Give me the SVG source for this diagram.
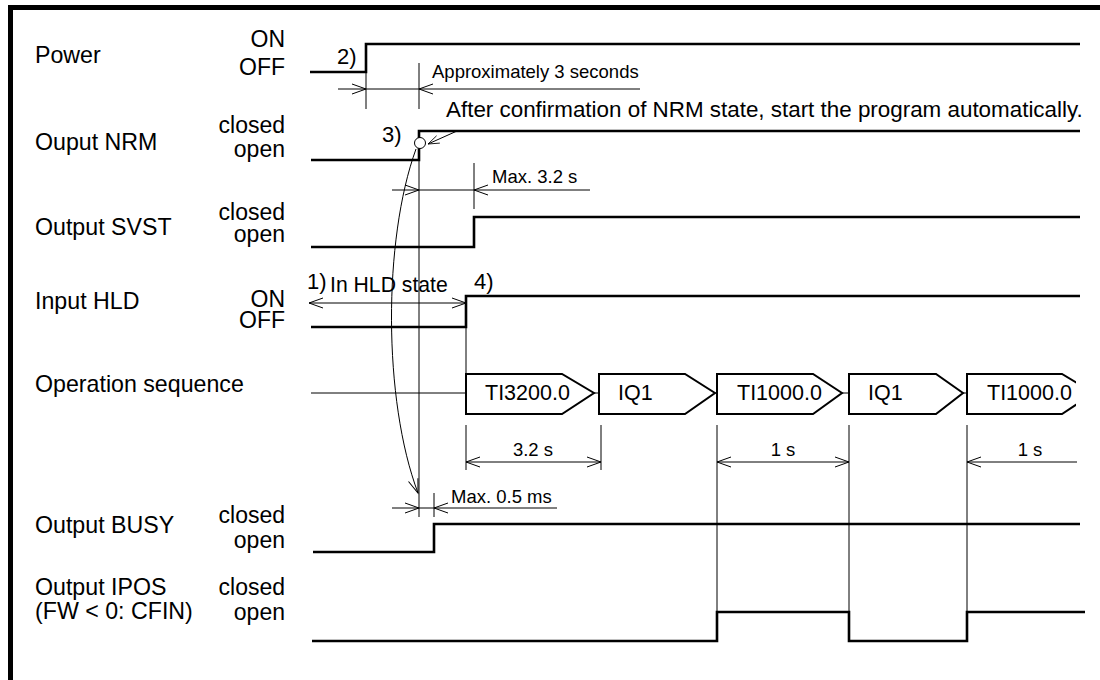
<svg xmlns="http://www.w3.org/2000/svg" width="1100" height="680" viewBox="0 0 1100 680">
<style>
text{font-family:"Liberation Sans",Arial,sans-serif;fill:#000}
.lbl{font-size:23.2px}
.st{font-size:23px;text-anchor:end}
.dim{font-size:18.5px}
.box{font-size:21.5px}
.note{font-size:22.4px}
.num{font-size:22px}
.wave{fill:none;stroke:#000;stroke-width:2.6}
.thin{fill:none;stroke:#000;stroke-width:1}
.blk{fill:none;stroke:#000;stroke-width:2}
</style>
<defs>
<path id="ah" d="M-14,-5 L0,0 L-14,5" fill="none" stroke="#000" stroke-width="1"/>
<clipPath id="clipR"><rect x="0" y="0" width="1076" height="680"/></clipPath>
</defs>
<rect x="8" y="5" width="1092" height="5" fill="#000"/>
<rect x="8" y="5" width="5" height="675" fill="#000"/>

<g id="power">
<text class="lbl" x="35" y="63">Power</text>
<text class="st" x="285" y="47">ON</text>
<text class="st" x="285" y="75">OFF</text>
<polyline class="wave" points="310,72 366,72 366,44 1080,44"/>
<text class="num" x="337" y="64">2)</text>
</g>

<g id="nrm">
<text class="lbl" x="35" y="150">Ouput NRM</text>
<text class="st" x="285" y="133">closed</text>
<text class="st" x="285" y="157">open</text>
<polyline class="wave" points="311,160 419,160 419,131 1080,131"/>
<text class="num" x="382" y="142">3)</text>
<text class="note" x="446" y="117">After confirmation of NRM state, start the program automatically.</text>
</g>

<g id="svst">
<text class="lbl" x="35" y="235">Output SVST</text>
<text class="st" x="285" y="220">closed</text>
<text class="st" x="285" y="242">open</text>
<polyline class="wave" points="311,247 474,247 474,217 1080,217"/>
</g>

<g id="hld">
<text class="lbl" x="35" y="309">Input HLD</text>
<text class="st" x="285" y="307">ON</text>
<text class="st" x="285" y="328">OFF</text>
<polyline class="wave" points="311,327 466,327 466,296 1080,296"/>
<text class="num" x="307" y="289">1)</text>
<text class="note" x="330" y="292" style="font-size:21.2px">In HLD state</text>
<text class="num" x="474" y="289">4)</text>
</g>

<g id="sequence">
<text class="lbl" x="35" y="392">Operation sequence</text>
<line class="thin" x1="311" y1="393" x2="466" y2="393"/>
<path class="blk" d="M466,374 H562 L594,393 L562,414 H466 Z"/>
<text class="box" x="485" y="400">TI3200.0</text>
<line class="thin" x1="594" y1="393" x2="599" y2="393"/>
<path class="blk" d="M599,374 H685 L715,393 L685,414 H599 Z"/>
<text class="box" x="618" y="400">IQ1</text>
<line class="thin" x1="715" y1="393" x2="717" y2="393"/>
<path class="blk" d="M717,374 H813 L842,393 L813,414 H717 Z"/>
<text class="box" x="737" y="400">TI1000.0</text>
<line class="thin" x1="842" y1="393" x2="849" y2="393"/>
<path class="blk" d="M849,374 H936 L963,393 L936,414 H849 Z"/>
<text class="box" x="868" y="400">IQ1</text>
<line class="thin" x1="963" y1="393" x2="967" y2="393"/>
<g clip-path="url(#clipR)">
<path class="blk" d="M967,374 H1062 L1094,393 L1062,414 H967 Z"/>
</g>
<text class="box" x="987" y="400">TI1000.0</text>
</g>

<g id="busy">
<text class="lbl" x="35" y="533">Output BUSY</text>
<text class="st" x="285" y="523">closed</text>
<text class="st" x="285" y="548">open</text>
<polyline class="wave" points="313,552 434,552 434,524 1080,524"/>
</g>

<g id="ipos">
<text class="lbl" x="35" y="595">Output IPOS</text>
<text class="lbl" x="35" y="619">(FW &lt; 0: CFIN)</text>
<text class="st" x="285" y="595">closed</text>
<text class="st" x="285" y="620">open</text>
<polyline class="wave" points="312,641 717,641 717,612 849,612 849,641 967,641 967,612 1085,612"/>
</g>

<g id="connectors">
<line class="thin" x1="366" y1="72" x2="366" y2="109"/>
<line class="thin" x1="419" y1="63" x2="419" y2="109"/>
<line class="thin" x1="338" y1="89" x2="640" y2="89"/>
<use href="#ah" transform="translate(366,89)"/>
<use href="#ah" transform="translate(419,89) rotate(180)"/>
<text class="dim" x="432" y="78">Approximately 3 seconds</text>
<line class="thin" x1="457" y1="131" x2="428" y2="144"/>
<use href="#ah" transform="translate(428,144) rotate(156) scale(0.8)"/>
<path class="thin" d="M416,149 C383,240 383,400 418,493"/>
<use href="#ah" transform="translate(418,493) rotate(70)"/>
<circle cx="420" cy="143" r="5.5" fill="#fff" stroke="#000" stroke-width="1"/>
<line class="thin" x1="419" y1="160" x2="419" y2="517"/>
<line class="thin" x1="474" y1="163" x2="474" y2="209"/>
<line class="thin" x1="392" y1="190" x2="590" y2="190"/>
<use href="#ah" transform="translate(419,190)"/>
<use href="#ah" transform="translate(474,190) rotate(180)"/>
<text class="dim" x="492" y="183">Max. 3.2 s</text>
<line class="thin" x1="309" y1="303" x2="466" y2="303"/>
<use href="#ah" transform="translate(309,303) rotate(180)"/>
<use href="#ah" transform="translate(466,303)"/>
<line class="thin" x1="466" y1="327" x2="466" y2="374"/>
<line class="thin" x1="466" y1="425" x2="466" y2="470"/>
<line class="thin" x1="601" y1="425" x2="601" y2="470"/>
<line class="thin" x1="466" y1="462" x2="601" y2="462"/>
<use href="#ah" transform="translate(466,462) rotate(180)"/>
<use href="#ah" transform="translate(601,462)"/>
<text class="dim" x="533" y="456" text-anchor="middle">3.2 s</text>
<line class="thin" x1="717" y1="425" x2="717" y2="641"/>
<line class="thin" x1="849" y1="425" x2="849" y2="641"/>
<line class="thin" x1="967" y1="425" x2="967" y2="641"/>
<line class="thin" x1="717" y1="462" x2="849" y2="462"/>
<use href="#ah" transform="translate(717,462) rotate(180)"/>
<use href="#ah" transform="translate(849,462)"/>
<text class="dim" x="783" y="456" text-anchor="middle">1 s</text>
<line class="thin" x1="967" y1="462" x2="1077" y2="462"/>
<use href="#ah" transform="translate(967,462) rotate(180)"/>
<text class="dim" x="1030" y="456" text-anchor="middle">1 s</text>
<line class="thin" x1="434" y1="493" x2="434" y2="517"/>
<line class="thin" x1="392" y1="508" x2="557" y2="508"/>
<use href="#ah" transform="translate(419,508)"/>
<use href="#ah" transform="translate(434,508) rotate(180)"/>
<text class="dim" x="451" y="503">Max. 0.5 ms</text>
</g>
</svg>
